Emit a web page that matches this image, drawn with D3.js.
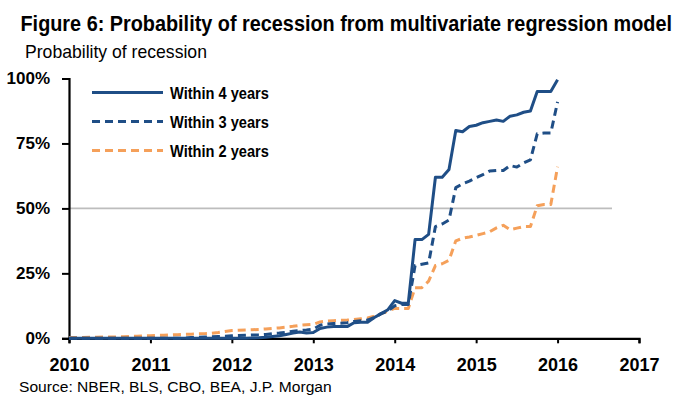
<!DOCTYPE html>
<html><head><meta charset="utf-8">
<script src="https://cdn.jsdelivr.net/npm/d3@7/dist/d3.min.js"></script>
<style>
html,body{margin:0;padding:0;background:#fff;}
svg{display:block;}
text{font-family:"Liberation Sans",Arial,sans-serif;}
</style></head>
<body>
<svg id="c" width="680" height="409"></svg>
<script>
// Monthly observations, Jan 2010 .. Jan 2016
const startYear = 2010;
const within4 = [
  0,0,0,0,0,0,0,0,0,0,0,0,
  0,0,0,0,0,0,0,0,0,0,0,0,
  0,0,0,0.1,0.2,0.4,0.7,1.0,1.5,2.0,2.4,2.0,
  2.2,3.8,4.3,4.5,4.5,4.5,6.0,6.2,6.2,8.0,9.5,11.0,
  14.5,13.5,13.5,38,38,40,62,62,65,80,79.5,81.5,
  82,83,83.5,84,83.5,85.5,86,87,87.5,95,95,95,
  99.5
];
const within3 = [
  0,0,0,0,0,0,0,0,0,0,0,0,
  0,0,0,0,0,0,0.3,0.4,0.5,0.6,0.7,0.8,
  1.0,1.1,1.2,1.3,1.3,1.5,1.8,2.0,2.3,2.7,3.0,3.2,
  3.5,5.0,5.5,5.7,5.8,6.0,6.5,6.8,7.0,8.0,9.5,10.5,
  12.5,13.0,13.0,28,28.5,29,43,44,45.5,58,59.5,60.5,
  61.8,63,64.4,64.6,64.6,66.5,65.9,67.5,68.7,78.7,79,79,
  91
];
const within2 = [
  0.3,0.3,0.3,0.4,0.4,0.5,0.5,0.5,0.6,0.7,0.8,0.9,
  1.0,1.1,1.2,1.3,1.4,1.5,1.6,1.7,1.8,1.9,2.2,2.6,
  3.0,3.1,3.2,3.3,3.4,3.6,3.8,4.0,4.3,4.6,5.0,5.2,
  5.4,6.3,6.6,6.8,6.9,7.0,7.2,7.5,7.8,8.5,9.5,10.5,
  11.5,11.5,11.5,19.5,19.5,22,28,28.7,30,37.5,38.5,39,
  39.6,40.3,41,42.5,43.5,41.8,42.4,43,43,51,51.5,51.5,
  66
];
const seriesNames = ["Within 4 years","Within 3 years","Within 2 years"];
const yTicks = [0,25,50,75,100];
const xTicks = [2010,2011,2012,2013,2014,2015,2016,2017];
const refLevel = 50;

const svg = d3.select("#c");
const x = d3.scaleLinear().domain([2010,2017]).range([69,639]);
const y = d3.scaleLinear().domain([0,100]).range([338.3,78.5]);

const navy = "#1f4e86", orange = "#f5a05a";
const styles = [
  {data:within4, color:navy, dash:null},
  {data:within3, color:navy, dash:"8,5"},
  {data:within2, color:orange, dash:"8,5"}
];

// condensed text helper: squeezes text horizontally to a target width
function narrowText(x0, y0, size, weight, width, str){
  const t = svg.append("text").attr("x",0).attr("y",0)
    .attr("font-size",size).attr("font-weight",weight).attr("fill","#000").text(str);
  const w = t.node().getComputedTextLength();
  t.attr("transform",`translate(${x0},${y0}) scale(${width/w},1)`);
  return t;
}

// title
narrowText(20.5, 31, 22, "bold", 652, "Figure 6: Probability of recession from multivariate regression model");
narrowText(25, 58, 18, "normal", 182, "Probability of recession");

// reference line at 50%
svg.append("line").attr("x1",x(2010)).attr("x2",612)
  .attr("y1",y(refLevel)).attr("y2",y(refLevel))
  .attr("stroke","#bdbdbd").attr("stroke-width",1.6);

// axes
const yAxis = d3.axisLeft(y).tickValues(yTicks).tickFormat(d=>d+"%").tickSize(7).tickPadding(12);
const gy = svg.append("g").attr("transform",`translate(${x(2010)},0)`).call(yAxis);
gy.select(".domain").attr("stroke","#000").attr("stroke-width",2.2);
gy.selectAll(".tick line").attr("stroke","#000").attr("stroke-width",2);
gy.selectAll(".tick text").attr("font-size",17).attr("font-weight","bold").attr("fill","#000")
  .attr("font-family",'"Liberation Sans",Arial,sans-serif');

const xAxis = d3.axisBottom(x).tickValues(xTicks).tickFormat(d3.format("d")).tickSize(5).tickPadding(15);
const gx = svg.append("g").attr("transform",`translate(0,${y(0)})`).call(xAxis);
gx.select(".domain").attr("stroke","#000").attr("stroke-width",2.2);
gx.selectAll(".tick line").attr("stroke","#000").attr("stroke-width",2);
gx.selectAll(".tick text").attr("font-size",18).attr("font-weight","bold").attr("fill","#000")
  .attr("font-family",'"Liberation Sans",Arial,sans-serif');

// lines (draw orange first, then 3y, then 4y on top)
const line = d3.line().x((d,i)=>x(startYear + i/12)).y(d=>y(d));
[2,1,0].forEach(k=>{
  const s = styles[k];
  svg.append("path").datum(s.data).attr("d",line)
    .attr("fill","none").attr("stroke",s.color).attr("stroke-width",3)
    .attr("stroke-linejoin","round")
    .attr("stroke-dasharray",s.dash);
});

// legend
const legY = [92.5,121.5,150.5];
styles.forEach((s,k)=>{
  svg.append("line").attr("x1",92).attr("x2",163).attr("y1",legY[k]).attr("y2",legY[k])
    .attr("stroke",s.color).attr("stroke-width",3).attr("stroke-dasharray",s.dash);
  narrowText(170, legY[k]+6, 17, "bold", 99, seriesNames[k]);
});

// source
narrowText(19, 392, 15, "normal", 313, "Source: NBER, BLS, CBO, BEA, J.P. Morgan");
</script>
</body></html>
